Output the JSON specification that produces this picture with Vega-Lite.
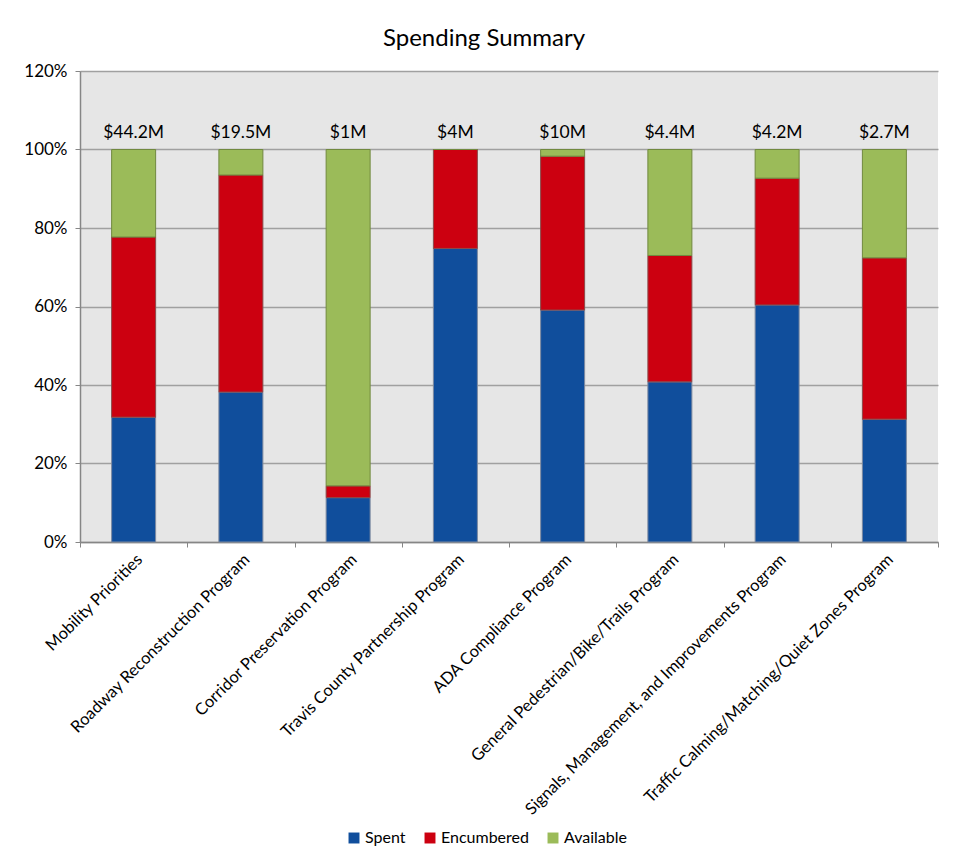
{
  "$schema": "https://vega.github.io/schema/vega-lite/v6.json",
  "autosize": "none",
  "width": 858,
  "height": 471,
  "padding": {"left": 80, "top": 71, "right": 23, "bottom": 315},
  "background": "white",
  "title": {"text": "Spending Summary", "fontSize": 24, "font": "Lato", "fontWeight": "normal", "color": "black", "dx": -25, "offset": 11},
  "datasets": {
    "parts": [
      {"program": "Mobility Priorities", "status": "Spent", "share": 0.318},
      {"program": "Mobility Priorities", "status": "Encumbered", "share": 0.459},
      {"program": "Mobility Priorities", "status": "Available", "share": 0.223},
      {"program": "Roadway Reconstruction Program", "status": "Spent", "share": 0.382},
      {"program": "Roadway Reconstruction Program", "status": "Encumbered", "share": 0.553},
      {"program": "Roadway Reconstruction Program", "status": "Available", "share": 0.065},
      {"program": "Corridor Preservation Program", "status": "Spent", "share": 0.113},
      {"program": "Corridor Preservation Program", "status": "Encumbered", "share": 0.030},
      {"program": "Corridor Preservation Program", "status": "Available", "share": 0.857},
      {"program": "Travis County Partnership Program", "status": "Spent", "share": 0.748},
      {"program": "Travis County Partnership Program", "status": "Encumbered", "share": 0.252},
      {"program": "Travis County Partnership Program", "status": "Available", "share": 0.0},
      {"program": "ADA Compliance Program", "status": "Spent", "share": 0.591},
      {"program": "ADA Compliance Program", "status": "Encumbered", "share": 0.392},
      {"program": "ADA Compliance Program", "status": "Available", "share": 0.017},
      {"program": "General Pedestrian/Bike/Trails Program", "status": "Spent", "share": 0.408},
      {"program": "General Pedestrian/Bike/Trails Program", "status": "Encumbered", "share": 0.322},
      {"program": "General Pedestrian/Bike/Trails Program", "status": "Available", "share": 0.270},
      {"program": "Signals, Management, and Improvements Program", "status": "Spent", "share": 0.604},
      {"program": "Signals, Management, and Improvements Program", "status": "Encumbered", "share": 0.323},
      {"program": "Signals, Management, and Improvements Program", "status": "Available", "share": 0.073},
      {"program": "Traffic Calming/Matching/Quiet Zones Program", "status": "Spent", "share": 0.313},
      {"program": "Traffic Calming/Matching/Quiet Zones Program", "status": "Encumbered", "share": 0.411},
      {"program": "Traffic Calming/Matching/Quiet Zones Program", "status": "Available", "share": 0.276}
    ],
    "totals": [
      {"program": "Mobility Priorities", "total": "$44.2M"},
      {"program": "Roadway Reconstruction Program", "total": "$19.5M"},
      {"program": "Corridor Preservation Program", "total": "$1M"},
      {"program": "Travis County Partnership Program", "total": "$4M"},
      {"program": "ADA Compliance Program", "total": "$10M"},
      {"program": "General Pedestrian/Bike/Trails Program", "total": "$4.4M"},
      {"program": "Signals, Management, and Improvements Program", "total": "$4.2M"},
      {"program": "Traffic Calming/Matching/Quiet Zones Program", "total": "$2.7M"}
    ]
  },
  "layer": [
    {
      "data": {"name": "parts"},
      "mark": {"type": "bar", "size": 44, "strokeWidth": 1},
      "encoding": {
        "x": {
          "field": "program", "type": "nominal", "sort": null, "title": null,
          "scale": {"paddingInner": 0, "paddingOuter": 0},
          "axis": {"labelAngle": -45, "labelFontSize": 16.5, "labelFont": "Lato", "labelColor": "black", "tickBand": "extent", "tickSize": 5, "tickColor": "#868686", "domainColor": "#868686", "domainWidth": 1.5, "labelPadding": 4, "labelLimit": 400}
        },
        "y": {
          "field": "share", "type": "quantitative", "stack": "zero", "title": null,
          "scale": {"domain": [0, 1.2], "nice": false},
          "axis": {"format": ".0%", "values": [0, 0.2, 0.4, 0.6, 0.8, 1.0, 1.2], "labelFontSize": 17, "labelFont": "Lato", "labelColor": "black", "tickSize": 5, "tickColor": "#868686", "domainColor": "#868686", "domainWidth": 1.5, "gridColor": "#a0a0a0", "gridWidth": 1.5, "gridOpacity": 1, "labelPadding": 8}
        },
        "color": {
          "field": "status", "type": "nominal",
          "scale": {"domain": ["Spent", "Encumbered", "Available"], "range": ["#104e9c", "#cc0010", "#9bbb59"]},
          "legend": {"title": null, "orient": "none", "direction": "horizontal", "legendX": 266, "legendY": 759, "symbolType": "square", "symbolSize": 120, "symbolStrokeWidth": 0, "labelFontSize": 16, "labelFont": "Lato", "labelColor": "black", "columnPadding": 16, "labelOffset": 3}
        },
        "stroke": {
          "field": "status", "type": "nominal",
          "scale": {"domain": ["Spent", "Encumbered", "Available"], "range": ["#7d8aa0", "#8a4a4a", "#71893f"]},
          "legend": null
        },
        "order": {"field": "status", "sort": "descending"}
      }
    },
    {
      "data": {"name": "totals"},
      "mark": {"type": "text", "fontSize": 17.5, "font": "Lato", "color": "black", "baseline": "bottom", "dy": -8},
      "encoding": {
        "x": {"field": "program", "type": "nominal", "sort": null},
        "y": {"datum": 1.0},
        "text": {"field": "total"}
      }
    }
  ],
  "config": {
    "view": {"fill": "#e6e6e6", "stroke": null}
  }
}
